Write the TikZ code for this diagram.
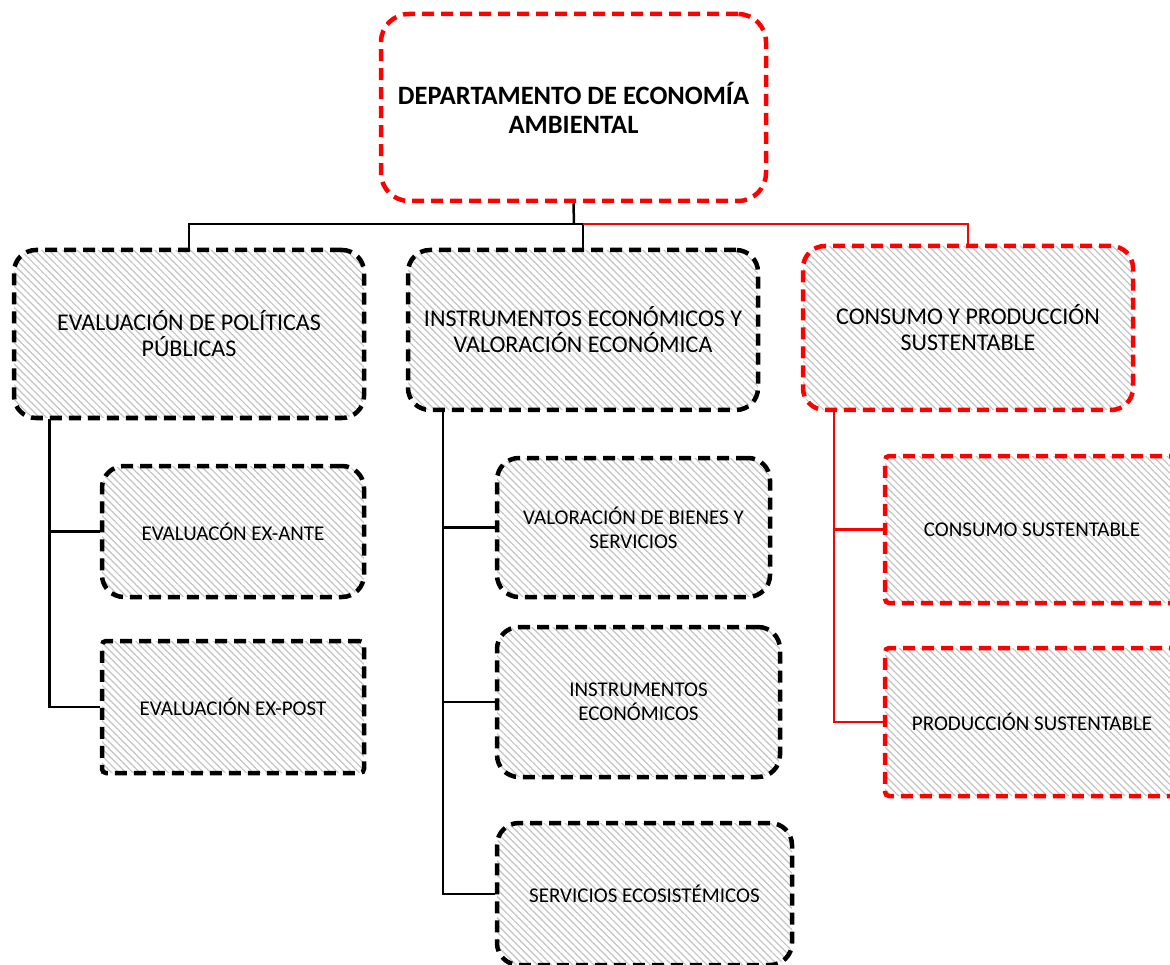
\documentclass[tikz,border=0pt]{standalone}
\usepackage{fontspec}
\setmainfont{Carlito}
\usetikzlibrary{patterns.meta}
\definecolor{hatch}{RGB}{195,195,195}
\tikzset{
  box/.style={draw=black, line width=4.5pt, dash pattern=on 12pt off 7pt,
    pattern={Lines[angle=-45,distance=5pt,line width=1.2pt]}, pattern color=hatch,
    rectangle, inner sep=0pt, align=center, text=black},
  redbox/.style={box, draw=red},
  round/.style={rounded corners=22pt},
  sharp/.style={rounded corners=4pt},
  big/.style={font=\fontsize{24}{26}\selectfont},
  small/.style={font=\fontsize{21}{24}\selectfont},
  conn/.style={line width=2.5pt, draw=black},
  rconn/.style={line width=2.5pt, draw=red},
}
\begin{document}
\begin{tikzpicture}[x=1pt,y=-1pt]
\useasboundingbox (0,0) rectangle (1170,965);
\clip (0,0) rectangle (1170,965);
% top
\node[draw=red, line width=4.5pt, dash pattern=on 12pt off 7pt, fill=white, rounded corners=28pt,
  minimum width=385pt, minimum height=187pt, inner sep=0pt, align=center,
  font=\bfseries\fontsize{26.5}{29}\selectfont] (top) at (573.5,107.5)
  {DEPARTAMENTO DE ECONOMÍA\\AMBIENTAL};
% level 1
\node[box, round, big, minimum width=350pt, minimum height=168pt] (l1) at (189,334)
  {EVALUACIÓN DE POLÍTICAS\\PÚBLICAS};
\node[box, round, big, minimum width=350pt, minimum height=160pt] (l2) at (583,330)
  {INSTRUMENTOS ECONÓMICOS Y\\VALORACIÓN ECONÓMICA};
\node[redbox, round, big, minimum width=330pt, minimum height=164pt] (l3) at (968,328)
  {CONSUMO Y PRODUCCIÓN\\SUSTENTABLE};
% left children
\node[box, round, small, minimum width=262pt, minimum height=131pt] (a1) at (233,531.5)
  {EVALUACÓN EX-ANTE};
\node[box, sharp, small, minimum width=262pt, minimum height=132pt] (a2) at (233,707)
  {EVALUACIÓN EX-POST};
% middle children
\node[box, round, small, minimum width=273pt, minimum height=139pt] (b1) at (633.5,527.5)
  {VALORACIÓN DE BIENES Y\\SERVICIOS};
\node[box, round, small, minimum width=283pt, minimum height=150pt] (b2) at (638.5,702)
  {INSTRUMENTOS\\ECONÓMICOS};
\node[box, round, small, minimum width=295pt, minimum height=142pt] (b3) at (644.5,894)
  {SERVICIOS ECOSISTÉMICOS};
% right children
\node[redbox, sharp, small, minimum width=300pt, minimum height=147pt] (c1) at (1035,529.5)
  {\hspace*{-3pt}CONSUMO SUSTENTABLE\hspace*{3pt}};
\node[redbox, sharp, small, minimum width=300pt, minimum height=148pt] (c2) at (1035,722)
  {\hspace*{-3pt}PRODUCCIÓN SUSTENTABLE\hspace*{3pt}};
% connectors
\coordinate (j) at (574,224);
\draw[conn] (top.south) -- (j);
\draw[conn] (j) -| (l1.north);
\draw[conn] (j) -| (l2.north);
\draw[rconn] (l2.north |- j) -| (l3.north);
\coordinate (ta) at ([xshift=36pt]l1.south west);
\draw[conn] (ta) |- (a1.west);
\draw[conn] (ta) |- (a2.west);
\coordinate (tb) at ([xshift=37pt]l2.south west);
\draw[conn] (tb) |- (b1.west);
\draw[conn] (tb) |- (b2.west);
\draw[conn] (tb) |- (b3.west);
\coordinate (tc) at ([xshift=33pt]l3.south west);
\draw[rconn] (tc) |- (c1.west);
\draw[rconn] (tc) |- (c2.west);
\end{tikzpicture}
\end{document}
